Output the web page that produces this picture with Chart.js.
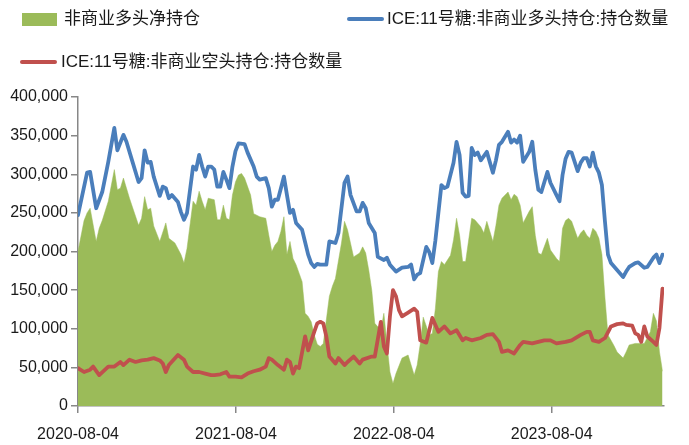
<!DOCTYPE html>
<html>
<head>
<meta charset="utf-8">
<script src="https://cdn.jsdelivr.net/npm/chart.js@4.4.1/dist/chart.umd.min.js"></script>
<style>
  html, body { margin:0; padding:0; background:#fff; }
  .wrap { position:relative; width:689px; height:445px; font-family:'Liberation Sans', 'Noto Sans CJK SC', sans-serif; }
  canvas { position:absolute; left:0; top:0; }
  .lg { position:absolute; font-size:17px; line-height:18px; color:#1a1a1a; white-space:nowrap; }
  .sw-box { position:absolute; width:35px; height:13px; background:#9bbb59; }
  .sw-line { position:absolute; width:37px; height:4px; border-radius:2px; }
</style>
</head>
<body>
<div class="wrap">
  <canvas id="chart" width="689" height="445"></canvas>
  <div class="sw-box" style="left:22px;top:13px"></div>
  <div class="lg" id="lg-net" style="left:64px;top:10px"></div>
  <div class="sw-line" style="left:347px;top:17px;background:#4a7ebb"></div>
  <div class="lg" id="lg-long" style="left:387px;top:10px"></div>
  <div class="sw-line" style="left:20px;top:60px;background:#c0504d"></div>
  <div class="lg" id="lg-short" style="left:61px;top:53px"></div>
</div>
<script>
// weeks counted from 2020-08-04 (weekly CFTC reports)
const tickWeeks  = [0, 52.14, 104.29, 156.43]
const tickLabels = ['2020-08-04', '2021-08-04', '2022-08-04', '2023-08-04']

const netLabel   = '非商业多头净持仓'
const longLabel  = 'ICE:11号糖:非商业多头持仓:持仓数量'
const shortLabel = 'ICE:11号糖:非商业空头持仓:持仓数量'

const longWeeks = [0,3,4,6,8,10,12,13,15,16,18,20,21,22,23,24,25,27,28,29,30,31,33,34,35,36,38,39,40,41,42,43,44,45,46,47,48,49,50,51,52,53,55,56,58,59,60,62,63,64,65,66,67,68,69,70,71,72,74,75,76,77,78,79,80,82,83,85,86,88,89,90,92,93,94,95,96,98,99,101,102,103,105,107,109,110,111,112,113,115,116,117,118,120,121,122,124,125,126,127,128,129,130,131,132,133,135,137,138,139,140,142,143,144,145,146,147,149,150,151,152,153,155,156,158,159,160,161,162,163,165,166,167,168,169,170,171,172,173,174,175,176,178,180,181,182,184,185,187,188,190,191,192,193]
const longVals  = [247000,302000,303000,256000,277000,316000,360000,331000,351000,342000,316000,290000,295000,331000,315000,316000,297000,272000,284000,282000,269000,273000,264000,251000,241000,250000,310000,306000,325000,310000,297000,310000,310000,306000,284000,284000,303000,293000,282000,310000,330000,340000,339000,328000,310000,297000,293000,295000,282000,258000,267000,267000,282000,297000,273000,250000,254000,237000,228000,212000,196000,185000,180000,184000,183000,183000,213000,211000,224000,289000,297000,273000,252000,252000,263000,256000,237000,224000,193000,189000,192000,183000,174000,179000,180000,183000,164000,170000,172000,206000,199000,185000,214000,286000,282000,284000,315000,342000,325000,276000,271000,272000,334000,325000,328000,318000,329000,302000,318000,338000,342000,355000,341000,345000,341000,350000,316000,329000,342000,306000,280000,277000,303000,289000,273000,265000,299000,320000,329000,328000,304000,315000,321000,321000,310000,328000,310000,302000,286000,239000,196000,185000,176000,167000,174000,180000,185000,186000,179000,180000,192000,196000,185000,196000]

const shortWeeks = [0,2,4,5,7,10,12,14,15,17,19,21,23,25,27,28,29,30,33,35,36,38,40,42,44,45,47,49,50,52,54,56,58,60,62,63,64,66,68,69,70,71,72,73,75,76,78,79,80,81,82,83,85,86,88,89,91,93,94,97,98,100,101,102,103,104,105,106,107,109,111,112,113,115,117,119,121,123,125,127,128,130,133,135,137,139,140,142,144,146,147,150,152,154,156,158,161,163,166,168,169,170,172,174,176,178,180,181,183,184,185,186,187,188,190,191,192,193]
const shortVals  = [49000,44000,47000,51000,40000,51000,51000,57000,53000,60000,57000,59000,60000,62000,59000,55000,44000,53000,66000,60000,51000,44000,44000,42000,40000,40000,41000,44000,38000,38000,37000,42000,45000,47000,51000,62000,60000,53000,47000,60000,57000,42000,51000,49000,90000,72000,96000,107000,109000,107000,90000,64000,55000,62000,53000,57000,64000,55000,60000,64000,64000,109000,77000,68000,116000,150000,142000,124000,116000,121000,126000,122000,85000,82000,114000,96000,103000,94000,98000,85000,88000,85000,88000,92000,93000,83000,70000,72000,68000,79000,83000,81000,83000,85000,85000,81000,83000,85000,92000,96000,96000,85000,83000,88000,103000,106000,107000,105000,104000,94000,92000,83000,103000,90000,83000,79000,101000,152000]

const netWeeks = [0,2,3,4,6,7,8,10,12,13,14,15,17,20,21,22,23,24,25,27,29,30,32,34,35,36,38,39,40,41,42,43,45,46,47,48,49,50,51,52,53,54,55,57,58,60,62,63,64,65,66,67,68,69,70,71,72,74,75,76,77,78,79,80,81,83,84,85,87,88,89,91,93,94,95,96,97,98,100,101,102,103,104,105,106,107,109,110,111,112,113,114,116,117,118,119,120,121,123,124,125,126,127,128,130,131,133,134,135,137,138,139,140,142,143,144,145,146,147,149,150,151,152,153,155,156,158,159,160,161,162,163,165,166,167,168,169,170,171,172,173,174,175,177,178,180,181,182,184,186,187,189,190,191,192,193]
const netVals  = [200000,240000,250000,256000,213000,230000,240000,265000,306000,280000,282000,295000,269000,234000,243000,271000,254000,256000,233000,213000,237000,217000,211000,196000,185000,204000,265000,260000,278000,265000,254000,269000,267000,241000,241000,260000,243000,241000,273000,290000,299000,301000,295000,273000,249000,245000,243000,221000,200000,208000,213000,226000,245000,196000,213000,191000,183000,161000,120000,116000,109000,92000,80000,77000,81000,142000,155000,165000,211000,239000,228000,193000,198000,206000,198000,176000,150000,107000,98000,120000,81000,44000,29000,42000,52000,62000,66000,53000,40000,53000,80000,115000,92000,94000,126000,174000,187000,183000,195000,215000,243000,221000,187000,187000,243000,241000,232000,224000,239000,213000,234000,260000,269000,277000,267000,274000,271000,260000,237000,252000,258000,221000,198000,196000,217000,202000,191000,187000,230000,240000,243000,239000,217000,224000,228000,221000,217000,230000,226000,217000,196000,140000,92000,78000,70000,62000,70000,79000,81000,81000,81000,96000,120000,110000,70000,45000]

const pts = (xs, ys) => xs.map((x, i) => ({ x, y: ys[i] }))

document.getElementById('lg-net').textContent   = netLabel
document.getElementById('lg-long').textContent  = longLabel
document.getElementById('lg-short').textContent = shortLabel

const font  = { family: "'Liberation Sans', 'Noto Sans CJK SC', sans-serif", size: 16 }
const ink   = '#1a1a1a'
const axisC = '#878787'

new Chart(document.getElementById('chart'), {
  type: 'line',
  data: {
    datasets: [
      {
        label:           longLabel,
        data:            pts(longWeeks, longVals),
        borderColor:     '#4a7ebb',
        borderWidth:     3.8,
        borderJoinStyle: 'round',
        borderCapStyle:  'round',
        pointRadius:     0,
        fill:            false,
        order:           1,
      },
      {
        label:           shortLabel,
        data:            pts(shortWeeks, shortVals),
        borderColor:     '#c0504d',
        borderWidth:     3.8,
        borderJoinStyle: 'round',
        borderCapStyle:  'round',
        pointRadius:     0,
        fill:            false,
        order:           2,
      },
      {
        label:           netLabel,
        data:            pts(netWeeks, netVals),
        borderColor:     '#9bbb59',
        backgroundColor: '#9bbb59',
        borderWidth:     0.5,
        pointRadius:     0,
        fill:            'origin',
        order:           3,
      },
    ],
  },
  options: {
    responsive: false, animation: false,
    layout: { padding: { top: 97, right: 25, left: 0, bottom: 0 } },
    plugins: { legend: { display: false }, tooltip: { enabled: false } },
    scales: {
      x: {
        type: 'linear', min: 0, max: 193.5,
        afterBuildTicks: s => { s.ticks = tickWeeks.map(v => ({ value: v })) },
        afterFit: s => { s.height = 39 },
        ticks:  { autoSkip: false, maxRotation: 0, padding: 12, color: ink, font, callback: (v, i) => tickLabels[i] },
        grid:   { drawOnChartArea: false, tickLength: 7, color: axisC, lineWidth: 1.5 },
        border: { color: axisC, width: 1.5 },
      },
      y: {
        min: 0, max: 400000,
        afterFit: s => { s.width = 78 },
        ticks:  { stepSize: 50000, padding: 3, color: ink, font, callback: v => v.toLocaleString('en-US') },
        grid:   { drawOnChartArea: false, tickLength: 7, color: axisC, lineWidth: 1.5 },
        border: { color: axisC, width: 1.5 },
      },
    },
  },
})
</script>
</body>
</html>
